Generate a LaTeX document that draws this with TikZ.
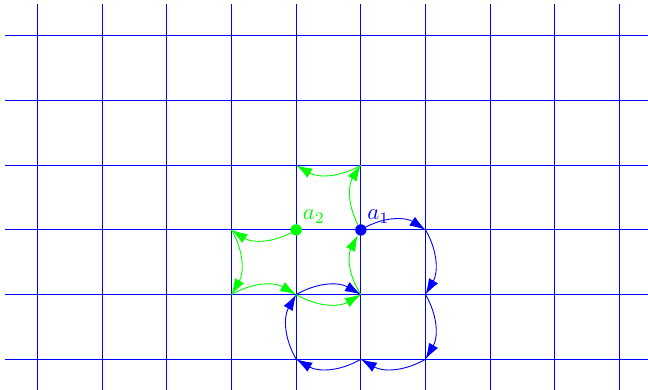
\documentclass[tikz,border=0pt]{standalone}
\usepackage{amsmath}
\usepackage{tikz}
\usetikzlibrary{arrows.meta}

\begin{document}
\begin{tikzpicture}[x=1cm,y=1cm,>={Latex[length=7pt,width=4.6pt]},
  bmove/.style={->,blue,bend left},
  gmove/.style={->,green,bend left},
  spot/.style={circle,inner sep=0pt,minimum size=5pt}]
\useasboundingbox (-5.58,-2.475) rectangle (4.44,3.555);
\draw[blue] (-5.5,-2.5) grid (4.5,3.5);
% walkers
\node[spot,fill=blue] (a1) at (0,0) {};
\node[spot,fill=green] (a2) at (-1,0) {};
\node[blue,anchor=south west,inner sep=0.8pt] (la1) at (a1.north east) {$a_1$};
\node[green,anchor=south west,inner sep=0.8pt] (la2) at (a2.north east) {$a_2$};
% lattice sites
\coordinate (q1) at (1,0);
\coordinate (q2) at (1,-1);
\coordinate (q3) at (1,-2);
\coordinate (q4) at (0,-2);
\coordinate (q5) at (-1,-2);
\coordinate (q6) at (-1,-1);
\coordinate (q7) at (0,-1);
\coordinate (g1) at (-2,0);
\coordinate (g2) at (-2,-1);
\coordinate (g3) at (0,1);
\coordinate (g4) at (-1,1);
% path of a_1
\draw[bmove] (a1) to (q1);
\draw[bmove] (q1) to (q2);
\draw[bmove] (q2) to (q3);
\draw[bmove] (q3) to (q4);
\draw[bmove] (q4) to (q5);
\draw[bmove] (q5) to (q6);
\draw[bmove] (q6) to (q7);
% path of a_2
\draw[gmove] (a2) to (g1);
\draw[gmove] (g1) to (g2);
\draw[gmove] (g2) to (q6);
\draw[gmove,bend right] (q6) to (q7);
\draw[gmove] (q7) to (a1);
\draw[gmove] (a1) to (g3);
\draw[gmove] (g3) to (g4);
\end{tikzpicture}
\end{document}
